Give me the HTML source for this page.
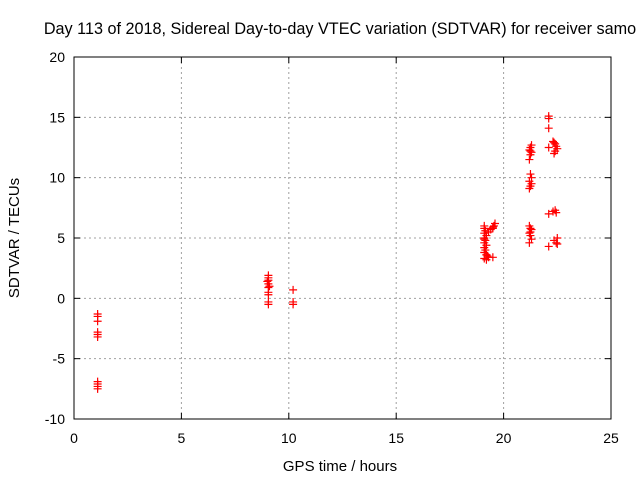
<!DOCTYPE html>
<html><head><meta charset="utf-8"><style>
body{margin:0;background:#fff}
svg{display:block;font-family:"Liberation Sans",sans-serif}
</style></head><body>
<svg id="chart" width="640" height="480" viewBox="0 0 640 480">
<text x="340" y="34" font-size="16.2" text-anchor="middle">Day 113 of 2018, Sidereal Day-to-day VTEC variation (SDTVAR) for receiver samo</text>
<g id="grid"></g>
<rect x="74" y="57" width="537" height="362" fill="none" stroke="#000"/>
<g id="ticks"></g>
<g id="pts"></g>
<text x="340" y="471" font-size="15" text-anchor="middle">GPS time / hours</text>
<text x="0" y="0" font-size="15" text-anchor="middle" transform="translate(19,238) rotate(-90)">SDTVAR / TECUs</text>
</svg>
<script>
const xTicks=[0,5,10,15,20,25];
const yTicks=[-10,-5,0,5,10,15,20];
const times=[1.1,1.1,1.1,1.1,1.1,1.1,1.1,1.1,1.1,1.1,
9.05,9.05,9.05,9.05,9.05,9.05,9.05,9.05,9.05,9.1,9.0,
10.2,10.2,10.2,
19.1,19.1,19.15,19.1,19.2,19.1,19.15,19.1,19.2,19.1,19.15,19.1,19.2,19.3,19.2,19.1,19.25,19.5,19.5,19.55,19.4,19.3,19.5,19.6,19.2,19.1,
21.2,21.25,21.3,21.2,21.25,21.3,21.2,21.25,
21.2,21.25,21.3,21.2,21.3,21.25,
21.2,21.25,21.3,21.2,21.25,21.3,21.25,
22.1,22.1,22.1,22.1,22.1,22.1,
22.3,22.35,22.4,22.45,22.5,22.4,22.35,22.3,22.4,22.45,22.5,22.35,22.45,22.5];
const sdtvar=[-1.3,-1.5,-1.9,-2.8,-3.0,-3.2,-6.9,-7.1,-7.3,-7.5,
1.9,1.7,1.5,1.2,0.9,0.5,0.3,-0.3,-0.5,1.0,1.4,
0.7,-0.3,-0.5,
6.0,5.8,5.6,5.4,5.2,5.0,4.8,4.6,4.4,4.2,4.0,3.8,3.6,3.4,3.2,3.3,3.5,3.4,5.8,6.0,5.7,5.5,5.9,6.2,3.6,4.9,
6.0,5.8,5.7,5.4,5.2,4.9,4.6,5.5,
9.1,9.3,9.5,9.7,10.0,10.3,
11.5,11.9,12.1,12.3,12.5,12.7,12.2,
15.1,14.9,14.1,12.5,7.0,4.3,
13.0,12.9,12.8,12.6,12.4,12.2,12.0,7.2,7.3,7.1,5.0,4.8,4.6,4.5];
const X0=74,X1=611,Y0=419,Y1=57;
const sx=v=>X0+(v-0)/25*(X1-X0);
const sy=v=>Y0-(v+10)/30*(Y0-Y1);
const NS="http://www.w3.org/2000/svg";
const grid=document.getElementById('grid'),ticks=document.getElementById('ticks'),pts=document.getElementById('pts');
function mk(t,a,p){const e=document.createElementNS(NS,t);for(const k in a)e.setAttribute(k,a[k]);p.appendChild(e);return e;}
xTicks.forEach(v=>{const x=sx(v);
 if(v>0&&v<25){const l=mk('line',{x1:x,x2:x,y1:Y1,y2:Y0,stroke:'#a0a0a0','stroke-dasharray':'2,3'},grid);
 
 }
 mk('line',{x1:x,x2:x,y1:Y0,y2:Y0-6,stroke:'#000'},ticks);mk('line',{x1:x,x2:x,y1:Y1,y2:Y1+6,stroke:'#000'},ticks);
 const t=mk('text',{x:x,y:Y0+24,'font-size':14,'text-anchor':'middle'},ticks);t.textContent=v;
 
 });
yTicks.forEach(v=>{const y=sy(v);
 if(v>-10&&v<20){const l=mk('line',{x1:X0,x2:X1,y1:y,y2:y,stroke:'#a0a0a0','stroke-dasharray':'2,3'},grid);
 
 }
 mk('line',{x1:X0,x2:X0+6,y1:y,y2:y,stroke:'#000'},ticks);mk('line',{x1:X1,x2:X1-6,y1:y,y2:y,stroke:'#000'},ticks);
 const t=mk('text',{x:X0-9,y:y+5,'font-size':14,'text-anchor':'end'},ticks);t.textContent=v;
 
 });
times.forEach((tv,i)=>{const x=sx(tv),y=sy(sdtvar[i]);
 const p=mk('path',{d:`M${x-4},${y}H${x+4}M${x},${y-4}V${y+4}`,stroke:'#f00','stroke-width':1.2,fill:'none'},pts);
 
 });
</script>
</body></html>
